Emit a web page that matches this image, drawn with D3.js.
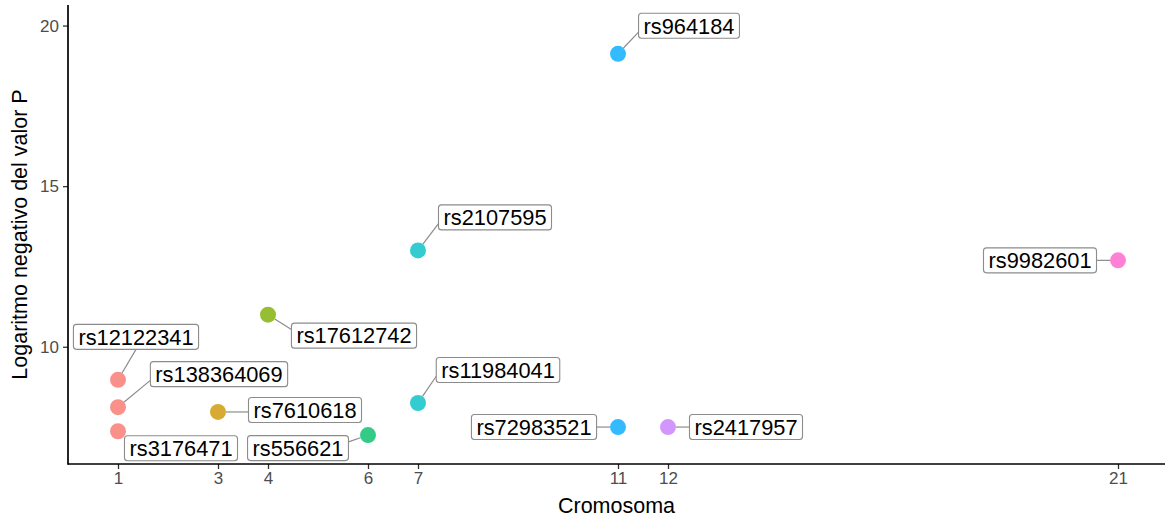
<!DOCTYPE html>
<html>
<head>
<meta charset="utf-8">
<script src="https://cdn.jsdelivr.net/npm/d3@7/dist/d3.min.js"></script>
<style>
  html, body { margin: 0; padding: 0; background: #fff; }
  svg { display: block; font-family: "Liberation Sans", Arial, Helvetica, sans-serif; }
</style>
</head>
<body>
<svg id="chart" width="1165" height="520"></svg>
<script>
// SNP identifiers, chromosome and -log10(P) for each lead variant
const snps = ["rs964184", "rs2107595", "rs9982601", "rs17612742", "rs12122341",
              "rs138364069", "rs11984041", "rs7610618", "rs72983521", "rs2417957",
              "rs3176471", "rs556621"];
const chromosomes = [11, 7, 21, 4, 1, 1, 7, 3, 11, 12, 1, 6];
const logP = [19.12, 13.0, 12.69, 11.0, 8.97, 8.12, 8.25, 7.97, 7.5, 7.5, 7.37, 7.25];

// Chromosomes shown on the x axis (also the colour levels)
const xTicks = [1, 3, 4, 6, 7, 11, 12, 21];
const yTicks = [10, 15, 20];

// Repelled label placement: offset of each label centre from its point, in px
const labelDx = [71, 77, -78, 86, 18, 101, 80, 87, -84, 78, 63, -70];
const labelDy = [-28, -33, 0, 21, -43, -33, -33, -2, 0, 0, 17, 13];

const W = 1165, H = 520;
const panel = { left: 68, right: 1165, top: 5, bottom: 464 };

const svg = d3.select("#chart");

const x = d3.scaleLinear().domain([0, 22]).range([panel.left, 1168]);
const y = d3.scaleLinear().domain([6.35, 20.64]).range([panel.bottom, panel.top]);

// ggplot-style hue palette over the chromosome levels
const hue = ["#F8766D", "#CD9600", "#7CAE00", "#00BE67", "#00BFC4", "#00A9FF", "#C77CFF", "#FF61CC"];
const color = d3.scaleOrdinal().domain(xTicks).range(hue);

// Axes
const xAxis = d3.axisBottom(x).tickValues(xTicks).tickSize(5).tickPadding(3).tickFormat(d3.format("d"));
const yAxis = d3.axisLeft(y).tickValues(yTicks).tickSize(5).tickPadding(4).tickFormat(d3.format("d"));

const gx = svg.append("g").attr("transform", `translate(0,${panel.bottom})`).call(xAxis);
const gy = svg.append("g").attr("transform", `translate(${panel.left},0)`).call(yAxis);

[gx, gy].forEach(g => {
  g.select(".domain").remove();
  g.selectAll(".tick line").attr("stroke", "#333").attr("stroke-width", 1.3);
  g.selectAll(".tick text").attr("fill", "#4D4D4D").attr("font-size", 17)
    .attr("font-family", "Liberation Sans, Arial, sans-serif");
});

// Axis lines (classic theme)
svg.append("line")
  .attr("x1", panel.left).attr("x2", panel.right)
  .attr("y1", panel.bottom).attr("y2", panel.bottom)
  .attr("stroke", "#000").attr("stroke-width", 1.7);
svg.append("line")
  .attr("x1", panel.left).attr("x2", panel.left)
  .attr("y1", panel.top).attr("y2", panel.bottom + 0.85)
  .attr("stroke", "#000").attr("stroke-width", 1.7);

// Axis titles
svg.append("text")
  .attr("x", (panel.left + panel.right) / 2).attr("y", 513)
  .attr("text-anchor", "middle").attr("font-size", 21.5).attr("fill", "#000")
  .text("Cromosoma");
svg.append("text")
  .attr("transform", `translate(27,${(panel.top + panel.bottom) / 2}) rotate(-90)`)
  .attr("text-anchor", "middle").attr("font-size", 21.5).attr("fill", "#000")
  .text("Logaritmo negativo del valor P");

const rows = snps.map((s, i) => ({
  snp: s, chr: chromosomes[i], p: logP[i], dx: labelDx[i], dy: labelDy[i]
}));

const R = 8;

// Points
svg.append("g").selectAll("circle").data(rows).join("circle")
  .attr("cx", d => x(d.chr)).attr("cy", d => y(d.p)).attr("r", R)
  .attr("fill", d => color(d.chr)).attr("fill-opacity", 0.8);

// Labels with connector segments
const fs = 21.8, padX = 5, boxH = 25;
const labelG = svg.append("g");
const segG = labelG.append("g");
const boxG = labelG.append("g");

rows.forEach(d => {
  const px = x(d.chr), py = y(d.p);
  const cx = px + d.dx, cy = py + d.dy;
  const g = boxG.append("g");
  const t = g.append("text")
    .attr("x", cx).attr("y", cy + fs * 0.355)
    .attr("text-anchor", "middle").attr("font-size", fs).attr("fill", "#000")
    .text(d.snp);
  const tw = t.node().getComputedTextLength();
  const bw = tw + 2 * padX;
  const x1 = cx - bw / 2, x2 = cx + bw / 2, y1 = cy - boxH / 2, y2 = cy + boxH / 2;
  g.insert("rect", "text")
    .attr("x", x1).attr("y", y1).attr("width", bw).attr("height", boxH)
    .attr("rx", 3).attr("ry", 3)
    .attr("fill", "#fff").attr("stroke", "#8c8c8c").attr("stroke-width", 1.1);

  // connection point on the box
  let ex, ey;
  if (px < x1 || px > x2) {
    ex = px < x1 ? x1 : x2;
    ey = cy + Math.max(-boxH / 4, Math.min(boxH / 4, py - cy));
  } else {
    ex = cx;
    ey = py < y1 ? y1 : y2;
  }
  const vx = ex - px, vy = ey - py;
  const len = Math.hypot(vx, vy);
  if (len - R > 6) {
    segG.append("line")
      .attr("x1", px + vx / len * R).attr("y1", py + vy / len * R)
      .attr("x2", ex).attr("y2", ey)
      .attr("stroke", "#8c8c8c").attr("stroke-width", 1.2);
  }
});
</script>
</body>
</html>
